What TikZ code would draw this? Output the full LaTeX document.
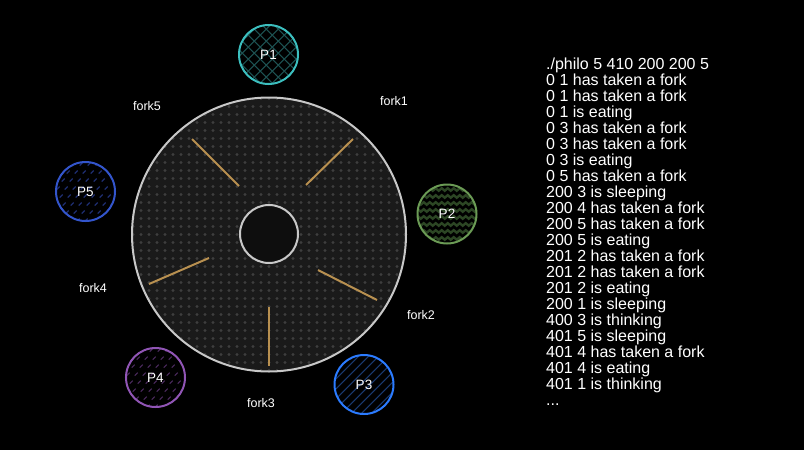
\documentclass[tikz,border=0pt]{standalone}
\usepackage{fontspec}
\setmainfont{Liberation Sans}
\definecolor{tablec}{HTML}{1A1A1A}
\definecolor{dotc}{HTML}{3E3E3E}
\definecolor{ringc}{HTML}{C8C8C8}
\definecolor{hubc}{HTML}{0E0E0E}
\definecolor{forkc}{HTML}{B89050}
\definecolor{p1c}{HTML}{3CBFBF}
\definecolor{p1d}{HTML}{1D5252}
\definecolor{p2c}{HTML}{6B9B55}
\definecolor{p2d}{HTML}{2C4624}
\definecolor{p3c}{HTML}{2B7BFF}
\definecolor{p3d}{HTML}{1A3A70}
\definecolor{p4c}{HTML}{9055B5}
\definecolor{p4d}{HTML}{4A2A5E}
\definecolor{p5c}{HTML}{3355CC}
\definecolor{p5d}{HTML}{1E2E70}
\begin{document}
\begin{tikzpicture}[x=1pt,y=-1pt,
  pnode/.style={circle, minimum size=59pt, inner sep=0pt, line width=2pt, fill=black, text=white, font=\fontsize{13.5}{13.5}\selectfont},
  forkline/.style={draw=forkc, line width=2pt},
  forklabel/.style={text=white, inner sep=0pt, font=\fontsize{12.5}{13}\selectfont},
  term/.style={anchor=base west, inner sep=0pt, text=white, font=\fontsize{16}{16}\selectfont}]
\fill[black] (0,0) rectangle (804,450);
\useasboundingbox (0,0) rectangle (804,450);

% table
\node[circle, minimum size=274pt, inner sep=0pt, draw=ringc, line width=2pt, fill=tablec,
  path picture={
    \begin{scope}[shift={(path picture bounding box.center)}]
      \foreach \ii in {-17,...,17}
        \foreach \jj in {-17,...,17}
          \fill[dotc] (\ii*8,\jj*8) circle (1.6pt);
    \end{scope}}] (table) at (269,234.5) {};
\node[circle, minimum size=58pt, inner sep=0pt, draw=ringc, line width=2pt, fill=hubc] (hub) at (269,234) {};

% forks
\coordinate (f1a) at (306,185); \coordinate (f1b) at (353,139);
\coordinate (f2a) at (318,270); \coordinate (f2b) at (377,300);
\coordinate (f3a) at (269,307); \coordinate (f3b) at (269,366);
\coordinate (f4a) at (209,258); \coordinate (f4b) at (149,284);
\coordinate (f5a) at (239,186); \coordinate (f5b) at (192,139);
\draw[forkline] (f1a) -- (f1b);
\draw[forkline] (f2a) -- (f2b);
\draw[forkline] (f3a) -- (f3b);
\draw[forkline] (f4a) -- (f4b);
\draw[forkline] (f5a) -- (f5b);

\node[forklabel] (fl1) at (394,101) {fork1};
\node[forklabel] (fl2) at (421,315) {fork2};
\node[forklabel] (fl3) at (261,403) {fork3};
\node[forklabel] (fl4) at (93,288) {fork4};
\node[forklabel] (fl5) at (147,106) {fork5};

% philosophers
\node[pnode, draw=p1c, path picture={
    \begin{scope}[shift={(path picture bounding box.center)}]
      \foreach \kk in {-72,-60,...,72} {
        \draw[p1d, line width=1pt] (\kk-40,40) -- ++(80,-80);
        \draw[p1d, line width=1pt] (\kk-40,-40) -- ++(80,80);}
    \end{scope}}] (P1) at (268.5,54.5) {P1};

\node[pnode, draw=p2c, path picture={
    \begin{scope}[shift={(path picture bounding box.center)}, rotate=-12]
      \foreach \rr in {-42,-35,...,42}
        \draw[p2d, line width=2.4pt, line join=miter]
          (-42,\rr) -- ++(3,-2.5) -- ++(3,2.5) -- ++(3,-2.5) -- ++(3,2.5)
          -- ++(3,-2.5) -- ++(3,2.5) -- ++(3,-2.5) -- ++(3,2.5)
          -- ++(3,-2.5) -- ++(3,2.5) -- ++(3,-2.5) -- ++(3,2.5)
          -- ++(3,-2.5) -- ++(3,2.5) -- ++(3,-2.5) -- ++(3,2.5)
          -- ++(3,-2.5) -- ++(3,2.5) -- ++(3,-2.5) -- ++(3,2.5)
          -- ++(3,-2.5) -- ++(3,2.5) -- ++(3,-2.5) -- ++(3,2.5)
          -- ++(3,-2.5) -- ++(3,2.5) -- ++(3,-2.5) -- ++(3,2.5);
    \end{scope}}] (P2) at (447,214) {P2};

\node[pnode, draw=p3c, path picture={
    \begin{scope}[shift={(path picture bounding box.center)}]
      \foreach \kk in {-80,-70,...,80}
        \draw[p3d, line width=1pt] (\kk-40,40) -- ++(80,-80);
    \end{scope}}] (P3) at (364,384.5) {P3};

\node[pnode, draw=p4c, path picture={
    \begin{scope}[shift={(path picture bounding box.center)}]
      \foreach \ii in {-4,...,4}
        \foreach \jj in {-4,...,4}
          \draw[p4d, line width=1pt] (\ii*8+\jj*3-1.5,\jj*8+1.5) -- ++(3,-3);
    \end{scope}}] (P4) at (155.5,377.5) {P4};

\node[pnode, draw=p5c, path picture={
    \begin{scope}[shift={(path picture bounding box.center)}]
      \foreach \ii in {-4,...,4}
        \foreach \jj in {-4,...,4}
          \draw[p5d, line width=1.2pt] (\ii*8+\jj*3-1.5,\jj*8+1.5) -- ++(3,-3);
    \end{scope}}] (P5) at (85.5,191.5) {P5};

% terminal output
\node[term] (l1) at (546,69) {./philo 5 410 200 200 5};
\node[term] (l2) at (546,85) {0 1 has taken a fork};
\node[term] (l3) at (546,101) {0 1 has taken a fork};
\node[term] (l4) at (546,117) {0 1 is eating};
\node[term] (l5) at (546,133) {0 3 has taken a fork};
\node[term] (l6) at (546,149) {0 3 has taken a fork};
\node[term] (l7) at (546,165) {0 3 is eating};
\node[term] (l8) at (546,181) {0 5 has taken a fork};
\node[term] (l9) at (546,197) {200 3 is sleeping};
\node[term] (l10) at (546,213) {200 4 has taken a fork};
\node[term] (l11) at (546,229) {200 5 has taken a fork};
\node[term] (l12) at (546,245) {200 5 is eating};
\node[term] (l13) at (546,261) {201 2 has taken a fork};
\node[term] (l14) at (546,277) {201 2 has taken a fork};
\node[term] (l15) at (546,293) {201 2 is eating};
\node[term] (l16) at (546,309) {200 1 is sleeping};
\node[term] (l17) at (546,325) {400 3 is thinking};
\node[term] (l18) at (546,341) {401 5 is sleeping};
\node[term] (l19) at (546,357) {401 4 has taken a fork};
\node[term] (l20) at (546,373) {401 4 is eating};
\node[term] (l21) at (546,389) {401 1 is thinking};
\node[term] (l22) at (546,405) {...};
\end{tikzpicture}
\end{document}
